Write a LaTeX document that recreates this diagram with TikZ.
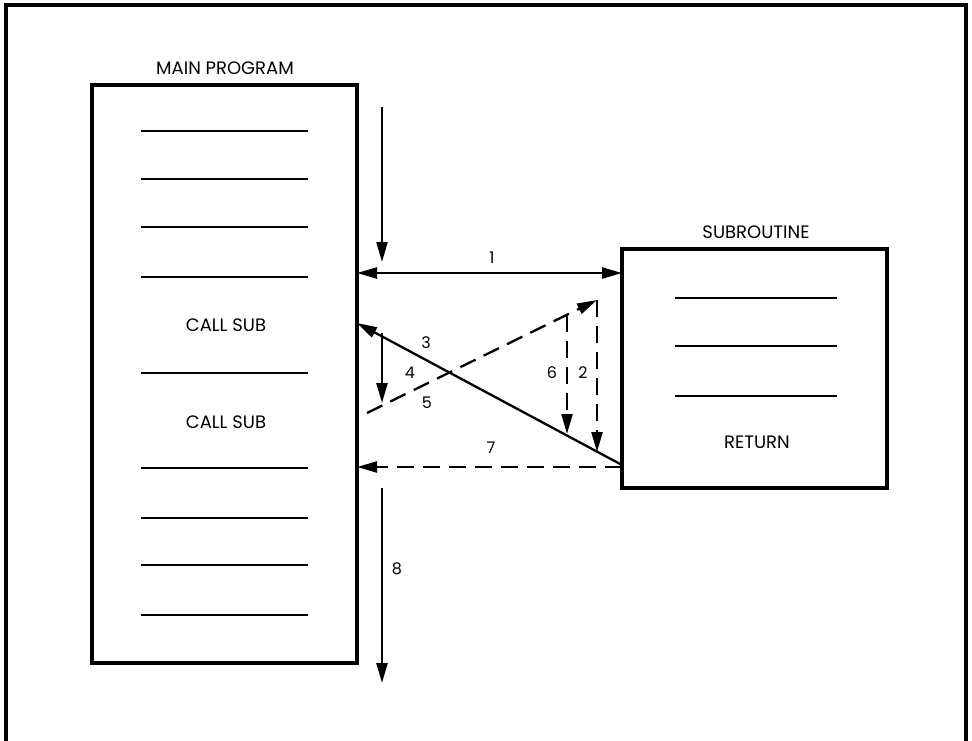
\documentclass[tikz,border=0pt]{standalone}
\usepackage{fontspec}
\setmainfont{Poppins}
\usetikzlibrary{arrows.meta}
\begin{document}
\begin{tikzpicture}[x=1pt,y=-1pt,
  box/.style={draw, line width=3.2pt, inner sep=0pt, rectangle},
  codeline/.style={line width=2.3pt},
  word/.style={font=\fontsize{18}{20}\selectfont, inner sep=0pt},
  num/.style={font=\fontsize{16}{18}\selectfont, inner sep=0pt},
  flow/.style={line width=2.3pt, -{Triangle[length=20pt,width=11pt]}},
  dflow/.style={flow, dash pattern=on 17pt off 9pt},
  frame/.style={line width=3.5pt}]
\useasboundingbox (0,0) rectangle (972,741);
% outer frame
\draw[frame] (6,741) -- (6,5) -- (966,5) -- (966,741);
% boxes
\node[box, minimum width=265pt, minimum height=578pt] (main) at (224.5,374) {};
\node[box, minimum width=265pt, minimum height=239pt] (sub) at (754.5,368.5) {};
\node[word] (mainlbl) at (225,68) {MAIN PROGRAM};
\node[word] (sublbl) at (756,232) {SUBROUTINE};
% main program lines
\foreach \y in {131,179,227,277,373,468,518,565,615}
  \draw[codeline] (141,\y) -- (308,\y);
\node[word] (call1) at (226,325) {CALL SUB};
\node[word] (call2) at (226,422) {CALL SUB};
% subroutine lines
\foreach \y in {298,346,396}
  \draw[codeline] (675,\y) -- (837,\y);
\node[word] (ret) at (757,442) {RETURN};
% connector end points
\coordinate (entryA) at (382,107);
\coordinate (entryB) at (382,262);
\coordinate (oneA) at (357,273);
\coordinate (oneB) at (622,273);
\coordinate (threeA) at (622,465);
\coordinate (threeB) at (357,323);
\coordinate (fourA) at (382,333);
\coordinate (fourB) at (382,403);
\coordinate (fiveA) at (367,413);
\coordinate (fiveB) at (597,300);
\coordinate (twoB) at (597,452);
\coordinate (sixA) at (567,315);
\coordinate (sixB) at (567,434);
\coordinate (sevenA) at (622,467);
\coordinate (sevenB) at (357,467);
\coordinate (eightA) at (382,488);
\coordinate (eightB) at (382,683);
% connectors
\draw[flow] (entryA) -- (entryB);
\draw[flow, {Triangle[length=20pt,width=11pt]}-{Triangle[length=20pt,width=11pt]}] (oneA) -- (oneB);
\draw[flow] (threeA) -- (threeB);
\draw[flow] (fourA) -- (fourB);
\draw[dflow] (fiveA) -- (fiveB);
\draw[dflow] (fiveB) -- (twoB);
\draw[dflow] (sixA) -- (sixB);
\draw[dflow] (sevenA) -- (sevenB);
\draw[flow] (eightA) -- (eightB);
% labels
\node[num] (l1) at (492,258) {1};
\node[num] (l2) at (583,373) {2};
\node[num] (l3) at (426,343) {3};
\node[num] (l4) at (410,373) {4};
\node[num] (l5) at (427,403) {5};
\node[num] (l6) at (552,373) {6};
\node[num] (l7) at (491,448) {7};
\node[num] (l8) at (397,569) {8};
\end{tikzpicture}
\end{document}
